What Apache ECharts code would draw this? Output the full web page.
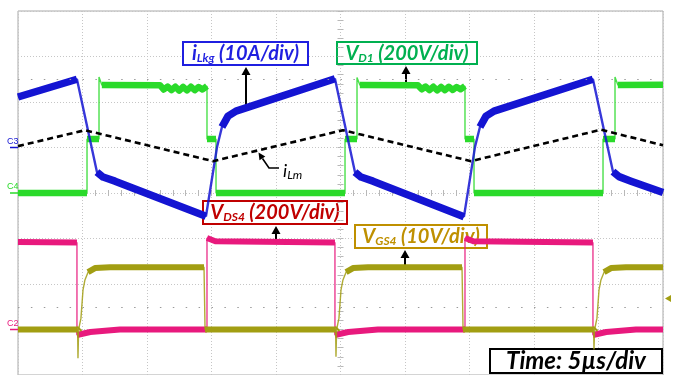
<!DOCTYPE html>
<html>
<head>
<meta charset="utf-8">
<script src="https://cdn.jsdelivr.net/npm/echarts@6/dist/echarts.min.js"></script>
<style>
  html, body { margin: 0; padding: 0; background: #fff; }
  #scope { width: 675px; height: 375px; }
</style>
</head>
<body>
<div id="scope"></div>
<script>
// Screen: 10 horizontal divisions at 5 µs/div, 8 vertical divisions
const usPerDiv = 5;
const timeDivs = 10;
const vertDivs = 8;

// Channel settings: units per division and ground position (divisions from screen centre)
const chIlkg = { perDiv: 10, offset: 1 };    // C3, 10 A/div
const chVd1 = { perDiv: 200, offset: 0 };    // C4, 200 V/div
const chVds4 = { perDiv: 200, offset: -3 };  // C2, 200 V/div
const chVgs4 = { perDiv: 10, offset: -3 };   // C1, 10 V/div

// Leakage inductor current i_Lkg (A)
const iLkgTime = [0, 4.57, 6.12, 6.59, 7.52, 14.57, 15.43, 15.81, 16.28, 16.90,
  24.57, 26.12, 26.59, 27.52, 34.57, 35.43, 35.81, 36.28, 36.90,
  44.57, 46.12, 46.59, 47.52, 50];
const iLkgAmps = [11.1, 15.0, -5.4, -6.5, -7.4, -15.1, 0.1, 4.5, 6.9, 8.0,
  15.1, -5.4, -6.5, -7.4, -15.2, 0.2, 4.5, 6.9, 8.0,
  15.0, -5.3, -6.4, -7.4, -9.9];

// Magnetizing current i_Lm (A), drawn dashed on the same scale
const iLmTime = [0, 5.19, 15.12, 25.19, 35.12, 45.19, 50];
const iLmAmps = [0.3, 3.8, -3.0, 3.8, -3.0, 3.9, 0.5];

// Diode voltage V_D1 (V)
const vd1Time = [0, 5.35, 5.35, 6.28, 6.28, 6.50,
  11.0, 11.3, 11.6, 11.9, 12.2, 12.5, 12.8, 13.1, 13.4, 13.7, 14.0, 14.3,
  14.65, 14.65, 15.35, 15.35,
  25.35, 25.35, 26.28, 26.28, 26.50,
  31.0, 31.3, 31.6, 31.9, 32.2, 32.5, 32.8, 33.1, 33.4, 33.7, 34.0, 34.3,
  34.65, 34.65, 35.35, 35.35,
  45.35, 45.35, 46.28, 46.28, 46.50, 50];
const vd1Volts = [0, 0, 237, 237, 510, 475,
  474, 455, 468, 452, 467, 450, 466, 451, 467, 452, 466, 455,
  470, 237, 237, 0,
  0, 237, 237, 508, 475,
  474, 456, 468, 452, 467, 451, 466, 452, 467, 453, 466, 456,
  470, 237, 237, 0,
  0, 237, 237, 510, 475, 476];

// Switch drain-source voltage V_DS4 (V)
const vds4Time = [0, 4.57, 4.57, 5.6, 7.9, 14.65, 14.65, 15.3,
  24.57, 24.57, 25.6, 27.9, 34.65, 34.65, 35.3,
  44.57, 44.57, 45.6, 47.9, 50];
const vds4Volts = [385, 382, -24, -11, 0, 0, 402, 388,
  382, -24, -11, 0, 0, 402, 388,
  382, -24, -11, 0, 0];

// Gate-source voltage V_GS4 (V)
const vgs4Time = [0, 4.62, 4.65, 4.70, 4.81, 4.88, 5.04, 5.19, 5.43, 5.97, 7.13, 14.42, 14.50,
  24.62, 24.65, 24.70, 24.81, 24.88, 25.04, 25.19, 25.43, 25.97, 27.13, 34.42, 34.50,
  44.62, 44.65, 44.70, 44.81, 44.88, 45.04, 45.19, 45.43, 45.97, 47.13, 50];
const vgs4Volts = [0, 0, -6.3, 0, 0.3, 2.5, 8.7, 10.9, 12.6, 13.5, 13.7, 13.7, 0,
  0, -6.0, 0, 0.3, 2.5, 8.7, 10.9, 12.6, 13.5, 13.7, 13.7, 0,
  0, -4.4, 0, 0.3, 2.5, 8.7, 10.9, 12.6, 13.5, 13.7, 13.7];

// Colours
const cBlue = '#1414d2';
const cGreen = '#2ada2a';
const cPink = '#e8197d';
const cOlive = '#a29e12';

// Convert a channel's samples into screen divisions
function toScreen(time, vals, chn) {
  return time.map((t, i) => [t, vals[i] / chn.perDiv + chn.offset]);
}

// The noisy, slowly varying parts of a trace show as a wide band; fast edges stay thin.
function bandOf(pts) {
  const out = [];
  for (let i = 0; i < pts.length; i++) {
    out.push(pts[i]);
    if (i < pts.length - 1) {
      const dt = pts[i + 1][0] - pts[i][0];
      const dv = pts[i + 1][1] - pts[i][1];
      if (dt <= 0 || Math.abs(dv / dt) > 0.6) out.push(null);
    }
  }
  return out;
}

function traceSeries(name, pts, color, thin, wide) {
  return [
    { name: name, type: 'line', data: pts, showSymbol: false, silent: true,
      lineStyle: { color: color, width: thin, opacity: 0.85 } },
    { name: name + ' band', type: 'line', data: bandOf(pts), showSymbol: false, silent: true,
      connectNulls: false, lineStyle: { color: color, width: wide, cap: 'butt', join: 'round' } }
  ];
}

const lkgPts = toScreen(iLkgTime, iLkgAmps, chIlkg);
const lmPts = toScreen(iLmTime, iLmAmps, chIlkg);
const vd1Pts = toScreen(vd1Time, vd1Volts, chVd1);
const vds4Pts = toScreen(vds4Time, vds4Volts, chVds4);
const vgs4Pts = toScreen(vgs4Time, vgs4Volts, chVgs4);

const gridLine = { show: true, lineStyle: { color: '#c6c6c6', width: 1, type: [1, 2] } };
const hidden = { show: false };
const tMax = usPerDiv * timeDivs;

function centreAxisX(inside) {
  return { type: 'value', min: 0, max: tMax, interval: usPerDiv, position: 'bottom', offset: -182,
    axisLine: hidden, axisLabel: hidden, splitLine: hidden,
    axisTick: { show: true, inside: inside, length: 3, lineStyle: { color: '#b8b8b8' } },
    minorTick: { show: true, splitNumber: 5, length: 3, lineStyle: { color: '#b8b8b8' } } };
}
function centreAxisY(inside) {
  return { type: 'value', min: -vertDivs / 2, max: vertDivs / 2, interval: 1, position: 'left', offset: -322.5,
    axisLine: hidden, axisLabel: hidden, splitLine: hidden,
    axisTick: { show: true, inside: inside, length: 3, lineStyle: { color: '#b8b8b8' } },
    minorTick: { show: true, splitNumber: 5, length: 3, lineStyle: { color: '#b8b8b8' } } };
}

const chart = echarts.init(document.getElementById('scope'), null, { renderer: 'canvas' });

chart.setOption({
  animation: false,
  backgroundColor: '#ffffff',
  grid: { left: 18, top: 11, right: 12, bottom: 0, show: true, borderColor: '#a8a8a8', borderWidth: 1 },
  xAxis: [
    { type: 'value', min: 0, max: tMax, interval: usPerDiv,
      axisLine: hidden, axisTick: hidden, axisLabel: hidden, splitLine: gridLine },
    centreAxisX(true), centreAxisX(false)
  ],
  yAxis: [
    { type: 'value', min: -vertDivs / 2, max: vertDivs / 2, interval: 1,
      axisLine: hidden, axisTick: hidden, axisLabel: hidden, splitLine: gridLine },
    centreAxisY(true), centreAxisY(false)
  ],
  series: [
    // dotted reference rows
    { type: 'line', data: [], silent: true,
      markLine: { symbol: 'none', silent: true, label: { show: false },
        lineStyle: { color: '#9a9a9a', width: 1, type: [1.5, 11.4] },
        data: [{ yAxis: 2.5 }, { yAxis: -2.5 }] } },
    ...traceSeries('VDS4', vds4Pts, cPink, 1.4, 6),
    ...traceSeries('VGS4', vgs4Pts, cOlive, 1.4, 6),
    ...traceSeries('VD1', vd1Pts, cGreen, 1.4, 6.5),
    ...traceSeries('iLkg', lkgPts, cBlue, 2.4, 7.5),
    { name: 'iLm', type: 'line', data: lmPts, showSymbol: false, silent: true,
      lineStyle: { color: '#000', width: 2.6, type: [6, 4] } }
  ]
});

// ---- annotations ----
const labelFont = 'Lato, "Open Sans", "DejaVu Sans", sans-serif';

function richStyles(color, size, subSize, bold, drop) {
  const w = bold ? 'bold' : 'normal';
  return {
    m: { fontFamily: labelFont, fontSize: size, fontWeight: w, fontStyle: 'italic', fill: color },
    s: { fontFamily: labelFont, fontSize: subSize, fontWeight: w, fontStyle: 'italic', fill: color, padding: [drop, 0, 0, 0] }
  };
}

function boxLabel(x0, y0, x1, y1, color, text, size, subSize) {
  return {
    type: 'group', z: 100, children: [
      { type: 'rect', shape: { x: x0, y: y0, width: x1 - x0, height: y1 - y0 },
        style: { fill: '#fff', stroke: color, lineWidth: 2 } },
      { type: 'text', x: (x0 + x1) / 2, y: (y0 + y1) / 2 + 0.5,
        style: { text: text, rich: richStyles(color, size, subSize, true, 9),
          align: 'center', verticalAlign: 'middle', textAlign: 'center', textVerticalAlign: 'middle' } }
    ]
  };
}

function upArrow(x, tipY, tailY) {
  return {
    type: 'group', z: 101, children: [
      { type: 'line', shape: { x1: x, y1: tipY + 6, x2: x, y2: tailY }, style: { stroke: '#000', lineWidth: 2 } },
      { type: 'polygon', shape: { points: [[x, tipY], [x - 4.5, tipY + 8], [x + 4.5, tipY + 8]] }, style: { fill: '#000' } }
    ]
  };
}

function chMarker(label, chn, color) {
  const p = chart.convertToPixel({ xAxisIndex: 0, yAxisIndex: 0 }, [0, chn.offset]);
  return {
    type: 'group', z: 100, children: [
      { type: 'line', shape: { x1: 10, y1: p[1], x2: p[0], y2: p[1] }, style: { stroke: color, lineWidth: 1.5 } },
      { type: 'text', x: 7, y: p[1] - 1.5,
        style: { text: label, fill: color, fontSize: 9, fontFamily: '"Liberation Sans", Arial, sans-serif',
          align: 'left', verticalAlign: 'bottom', textAlign: 'left', textVerticalAlign: 'bottom' } }
    ]
  };
}

chart.setOption({
  graphic: [
    boxLabel(183, 42, 308, 65, '#1f1fe0', '{m|i}{s|Lkg}{m| (10A/div)}', 20, 12),
    upArrow(246, 67, 105),
    boxLabel(337, 42, 477, 64, '#00b050', '{m|V}{s|D1}{m| (200V/div)}', 20, 12),
    upArrow(406, 66, 83),
    boxLabel(203, 201, 347, 224, '#c00000', '{m|V}{s|DS4}{m| (200V/div)}', 20, 12),
    upArrow(276, 226, 240),
    boxLabel(355, 225, 487, 248, '#bf9000', '{m|V}{s|GS4}{m| (10V/div)}', 20, 12),
    upArrow(405, 250, 265),
    boxLabel(490, 349, 662, 373, '#000000', '{m|Time: 5µs/div}', 24, 12),
    // i_Lm pointer
    { type: 'group', z: 101, children: [
      { type: 'polyline', shape: { points: [[279, 168], [269, 168], [262.5, 158.5]] },
        style: { stroke: '#000', lineWidth: 1.6, fill: null } },
      { type: 'polygon', shape: { points: [[258.5, 152.5], [265.3, 156.4], [259.5, 160.2]] }, style: { fill: '#000' } },
      { type: 'text', x: 283, y: 171,
        style: { text: '{m|i}{s|Lm}', rich: richStyles('#000', 18, 12, false, 8),
          align: 'left', verticalAlign: 'middle', textAlign: 'left', textVerticalAlign: 'middle' } }
    ] },
    chMarker('C3', chIlkg, cBlue),
    chMarker('C4', chVd1, cGreen),
    chMarker('C2', chVds4, cPink),
    // trigger level marker
    { type: 'polygon', z: 100, shape: { points: [[671, 295], [665, 298.5], [671, 302]] }, style: { fill: cOlive } }
  ]
});
</script>
</body>
</html>
